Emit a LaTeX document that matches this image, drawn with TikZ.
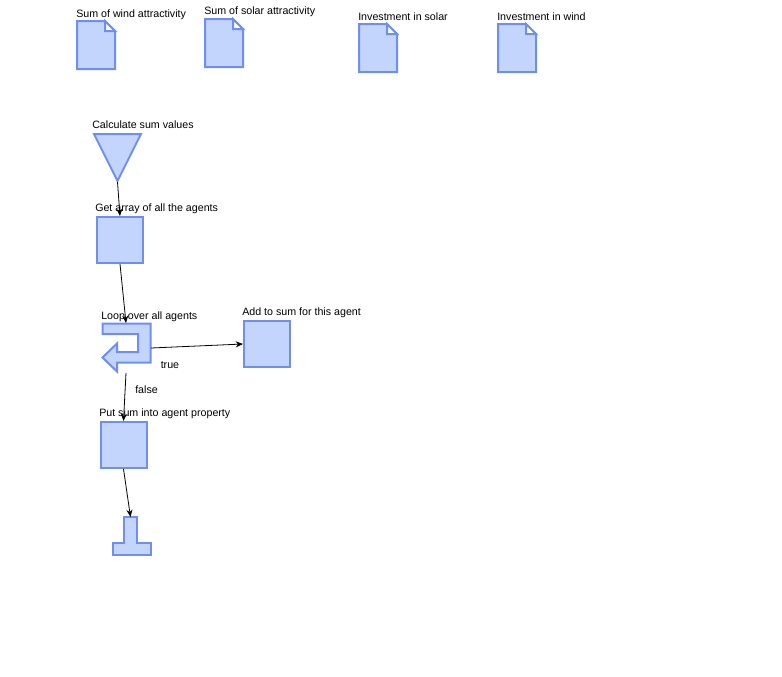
\documentclass[tikz,border=0pt]{standalone}
\usepackage{fontspec}
\setmainfont{Liberation Sans}
\usetikzlibrary{arrows.meta}
\definecolor{shfill}{RGB}{195,213,253}
\definecolor{shdraw}{RGB}{110,142,242}
\tikzset{
  shp/.style={fill=shfill,draw=shdraw,line width=1.5pt,line join=miter},
  box/.style={shp,rectangle,minimum width=34.5pt,minimum height=34.5pt,inner sep=0pt},
  lbl/.style={anchor=base west,inner sep=0pt,font=\fontsize{8pt}{10pt}\selectfont},
  arr/.style={draw=black,line width=0.6pt,-{Stealth[length=5.5pt,width=4.5pt]}}
}
\begin{document}
\begin{tikzpicture}[x=0.75pt,y=-0.75pt]
\useasboundingbox (0,0) rectangle (782,676);
% documents
\newcommand{\docicon}[3]{%
  \draw[shp] (#1,#2) -- ++(28,0) -- ++(10,10) -- ++(0,38) -- ++(-38,0) -- cycle;
  \draw[shp,fill=white] (#1+28,#2) -- ++(0,10) -- ++(10,0) -- cycle;
  \coordinate (#3) at (#1+19,#2+24);}
\docicon{77}{21}{docwind}
\docicon{205}{19}{docsolar}
\docicon{359}{24}{docinvsolar}
\docicon{498}{24}{docinvwind}
\node[lbl] (ldocwind) at (76,17) {Sum of wind attractivity};
\node[lbl] (ldocsolar) at (204,14.5) {Sum of solar attractivity};
\node[lbl] (ldocinvsolar) at (358,20) {Investment in solar};
\node[lbl] (ldocinvwind) at (497,20) {Investment in wind};
% start triangle
\draw[shp] (94,134) -- (141,134) -- (117.5,181) -- cycle;
\coordinate (calc) at (117.5,182);
\node[lbl] (lcalc) at (92,128) {Calculate sum values};
% get array
\node[box] (getarr) at (120,240) {};
\node[lbl] (lgetarr) at (95,211) {Get array of all the agents};
% loop
\draw[shp] (102.5,323.5) -- (150.5,323.5) -- (150.5,362.5) -- (117,362.5) -- (117,371.5) -- (102.5,357.5) -- (117,343.5) -- (117,352) -- (138,352) -- (138,334) -- (102.5,334) -- cycle;
\coordinate (looptop) at (126,323);
\coordinate (loopright) at (151,348);
\coordinate (loopbottom) at (126,373);
\node[lbl] (lloop) at (101,319) {Loop over all agents};
% add to sum
\node[box] (addsum) at (267,344) {};
\node[lbl] (laddsum) at (242,315) {Add to sum for this agent};
% put sum
\node[box] (putsum) at (123.5,445) {};
\node[lbl] (lputsum) at (99,416) {Put sum into agent property};
% end
\draw[shp] (123.5,517) -- (136.5,517) -- (136.5,542.5) -- (150.5,542.5) -- (150.5,554.5) -- (112.5,554.5) -- (112.5,542.5) -- (123.5,542.5) -- cycle;
\coordinate (endtop) at (130.5,517);
% connectors
\draw[arr] (calc) -- (getarr.north);
\draw[arr] (getarr.south) -- (looptop);
\draw[arr] (loopright) -- (addsum.west);
\draw[arr] (loopbottom) -- (putsum.north);
\draw[arr] (putsum.south) -- (endtop);
\node[lbl] (ltrue) at (160.5,368) {true};
\node[lbl] (lfalse) at (135,393) {false};
\end{tikzpicture}
\end{document}
